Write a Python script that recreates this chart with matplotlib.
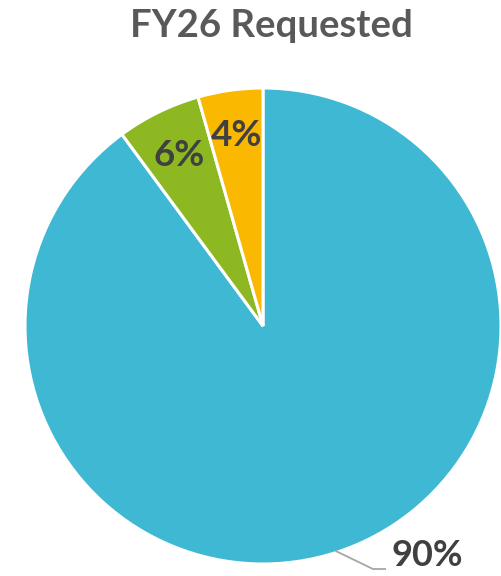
import matplotlib.pyplot as plt
import numpy as np

categories = ['Main', 'Secondary', 'Other']
shares = [89.9, 5.7, 4.4]
labels = ['90%', '6%', '4%']
colors = ['#3FB8D3', '#8DB822', '#FBB800']

plt.rcParams['font.family'] = ['Lato', 'DejaVu Sans']

fig = plt.figure(figsize=(5.01, 5.76), dpi=100)
# pie centred around (263, 326) px, radius 238 px
cx, cy, r = 263, 326, 238
W, H = 501, 576
ax = fig.add_axes([(cx - r) / W, (H - cy - r) / H, 2 * r / W, 2 * r / H])

wedges, _ = ax.pie(shares, colors=colors, startangle=90, counterclock=False,
                   radius=1, wedgeprops=dict(edgecolor='white', linewidth=2.2))
ax.set_xlim(-1, 1)
ax.set_ylim(-1, 1)
ax.set_aspect('equal')
ax.axis('off')

# small slices get their labels inside
for w, lab, rad in zip(wedges[1:], labels[1:], [0.80, 0.81]):
    mid = np.deg2rad((w.theta1 + w.theta2) / 2)
    ax.text(rad * np.cos(mid), rad * np.sin(mid), lab, ha='center', va='center',
            fontsize=26.5, fontweight='bold', color='#404040')

# big slice label outside with leader line
mid = np.deg2rad(-72)
x0, y0 = np.cos(mid) * 0.995, np.sin(mid) * 0.995
x1, y1 = 0.462, -1.021
x2 = 0.513
ax.plot([x0, x1, x2], [y0, y1, y1], color='#A6A6A6', lw=1.3, clip_on=False)
ax.text(x2 + 0.025, -1.008, labels[0], ha='left', va='baseline',
        fontsize=26, fontweight='bold', color='#404040')

fig.text(0.542, 1 - 26 / H, 'FY26 Requested', ha='center', va='center',
         fontsize=27.5, fontweight='bold', color='#595959')

fig.savefig('out.png', dpi=100)
